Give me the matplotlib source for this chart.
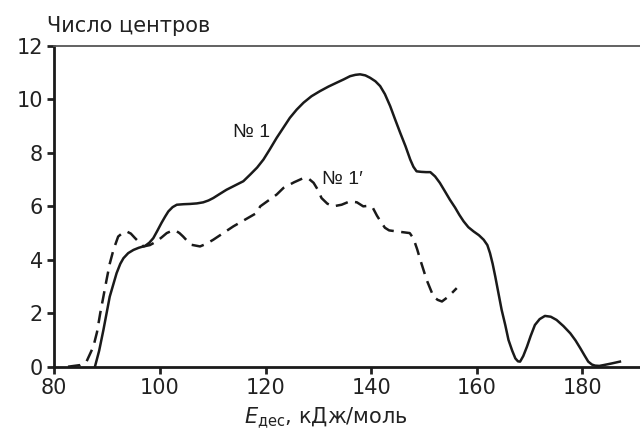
import matplotlib.pyplot as plt

plt.rcParams['font.family'] = ['DejaVu Sans']

# Кривая № 1 (сплошная)
e1 = [87.7, 88.5, 89.3, 90.5, 91.8, 92.5, 93.1, 94.0, 95.0, 96.0, 97.2, 98.0, 98.75,
      99.5, 100.3, 101.0, 101.6, 102.4, 103.2, 104.5, 105.7, 107.0, 108.2, 109.2,
      110.1, 111.3, 112.6, 114.2, 115.8, 117.1, 118.4, 119.6, 120.8, 122.1, 123.4,
      124.6, 125.9, 127.2, 128.7, 130.3, 131.9, 133.5, 134.8, 136.0, 137.0, 137.9,
      138.9, 139.8, 140.8, 141.7, 142.6, 143.6, 144.5, 145.5, 146.5, 147.4, 148.0,
      148.6, 149.5, 150.4, 151.2, 152.1, 153.0, 154.0, 154.9, 155.9, 156.7, 157.5,
      158.4, 159.4, 160.4, 161.3, 162.0, 162.5, 163.0, 163.5, 164.1, 164.7, 165.4,
      166.0, 166.7, 167.3, 167.8, 168.2, 168.8, 169.5, 170.2, 171.0, 171.9, 172.9,
      174.0, 175.1, 176.4, 177.7, 178.7, 179.6, 180.4, 181.1, 181.8, 182.4, 183.2,
      184.0, 185.5, 187.1]
n1 = [0.0, 0.6, 1.37, 2.62, 3.5, 3.85, 4.06, 4.25, 4.37, 4.45, 4.52, 4.64, 4.81,
      5.08, 5.38, 5.62, 5.81, 5.97, 6.06, 6.08, 6.09, 6.11, 6.15, 6.22,
      6.31, 6.46, 6.62, 6.78, 6.94, 7.19, 7.45, 7.75, 8.13, 8.56, 8.95,
      9.31, 9.62, 9.88, 10.12, 10.31, 10.48, 10.63, 10.75, 10.87, 10.92, 10.94,
      10.9, 10.81, 10.68, 10.5, 10.2, 9.75, 9.27, 8.75, 8.25, 7.75, 7.48,
      7.31, 7.29, 7.28, 7.28, 7.12, 6.88, 6.55, 6.25, 5.95, 5.68, 5.44,
      5.22, 5.06, 4.92, 4.75, 4.55, 4.25, 3.85, 3.37, 2.75, 2.13, 1.55,
      1.0, 0.6, 0.31, 0.2, 0.19, 0.4, 0.75, 1.15, 1.56, 1.78, 1.9,
      1.87, 1.75, 1.52, 1.25, 0.98, 0.69, 0.42, 0.19, 0.08, 0.04, 0.03,
      0.06, 0.12, 0.19]

# Кривая № 1' (штриховая)
e2 = [82.6, 84.9, 86.1, 87.4, 88.1, 88.7, 89.3, 89.9, 90.5, 91.2, 92.1, 92.9, 93.7,
      94.5, 95.3, 96.1, 96.9, 98.1, 99.4, 100.4, 101.3, 102.1, 102.9, 103.7, 104.4,
      105.2, 106.0, 107.6, 108.8, 110.1, 113.9, 118.3, 119.0, 122.1, 123.4, 125.4,
      127.2, 128.2, 129.1, 129.9, 130.6, 131.7, 132.8, 134.4, 136.0, 137.3, 138.5,
      139.5, 140.3, 141.1, 141.9, 142.6, 143.4, 145.3, 147.3, 148.0, 148.7, 149.3,
      150.5, 151.8, 152.6, 153.4, 154.6, 156.2]
n2 = [0.0, 0.06, 0.19, 0.75, 1.3, 2.0, 2.62, 3.25, 3.85, 4.37, 4.87, 5.0, 5.06,
      4.98, 4.81, 4.65, 4.5, 4.55, 4.69, 4.85, 5.0, 5.07, 5.1, 5.0, 4.87,
      4.7, 4.56, 4.5, 4.6, 4.75, 5.25, 5.75, 6.0, 6.44, 6.69, 6.9,
      7.06, 7.03, 6.88, 6.62, 6.31, 6.1, 6.0, 6.06, 6.19, 6.15, 6.0,
      6.02, 5.95, 5.65, 5.4, 5.2, 5.1, 5.05, 5.0, 4.8, 4.4, 4.0,
      3.25, 2.62, 2.5, 2.44, 2.62, 2.94]

xticks = [80, 100, 120, 140, 160, 180]
yticks = [0, 2, 4, 6, 8, 10, 12]

fig = plt.figure(figsize=(6.4, 4.38), dpi=100)
ax = fig.add_axes([0.0848, 0.1628, 0.9152, 0.7322])

ax.plot(e1, n1, color='#1a1a1a', lw=1.8, solid_joinstyle='round')
ax.plot(e2, n2, color='#1a1a1a', lw=1.8, linestyle=(0, (5, 3)), dash_joinstyle='round')

ax.set_xlim(80, 190.9)
ax.set_ylim(0, 12)
ax.set_xticks(xticks)
ax.set_yticks(yticks)
ax.tick_params(direction='out', length=5, width=2, labelsize=15, colors='#222222', pad=3)

ax.spines['right'].set_visible(False)
ax.spines['left'].set_linewidth(2)
ax.spines['bottom'].set_linewidth(2)
ax.spines['left'].set_color('#1a1a1a')
ax.spines['bottom'].set_color('#1a1a1a')
ax.spines['top'].set_linewidth(1.3)
ax.spines['top'].set_color('#555555')

ax.text(113.8, 8.76, '№ 1', fontsize=14, family='Liberation Sans', va='center', ha='left', color='#1a1a1a')
ax.text(130.6, 7.0, '№ 1′', fontsize=14, family='Liberation Sans', va='center', ha='left', color='#1a1a1a')

fig.text(47 / 640, 1 - 26 / 438, 'Число центров', fontsize=15, va='center', ha='left', color='#222222')
fig.text(326 / 640, 1 - 418 / 438, r'$\mathit{E}_{\mathrm{дес}}$, кДж/моль', fontsize=15,
         va='center', ha='center', color='#222222')

fig.savefig('out.png', dpi=100)
